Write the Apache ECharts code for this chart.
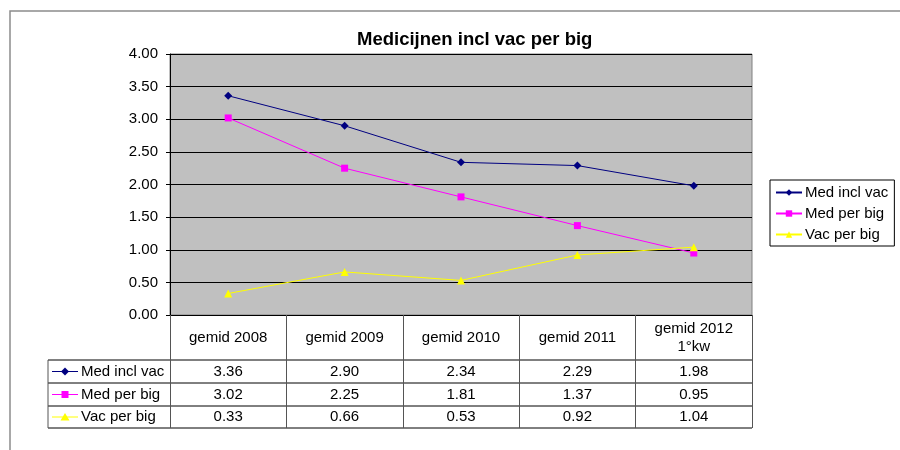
<!DOCTYPE html>
<html>
<head>
<meta charset="utf-8">
<script src="https://cdn.jsdelivr.net/npm/echarts@6/dist/echarts.min.js"></script>
<style>
  html, body { margin: 0; background: #fff; }
  #chart { width: 900px; height: 450px; }
</style>
</head>
<body>
<div id="chart"></div>
<script>
var categories = ['gemid 2008', 'gemid 2009', 'gemid 2010', 'gemid 2011', 'gemid 2012\n1°kw']
var medInclVac = [3.36, 2.90, 2.34, 2.29, 1.98]
var medPerBig = [3.02, 2.25, 1.81, 1.37, 0.95]
var vacPerBig = [0.33, 0.66, 0.53, 0.92, 1.04]
var seriesNames = ['Med incl vac', 'Med per big', 'Vac per big']
var seriesData = [medInclVac, medPerBig, vacPerBig]
var colors = ['#000080', '#FF00FF', '#FFFF00']
var symbols = ['diamond', 'rect', 'triangle']
var symbolSizes = [8, 7, 8]

var font = 'Arial, "Liberation Sans", sans-serif'
// plot area / table layout (px)
var gl = 170, gr = 752, gt = 54, gb = 315
var rowLines = [360, 383, 406, 428]
var tableLeft = 48

var chart = echarts.init(document.getElementById('chart'))

// table x axes: header row + one row of values per series
var xAxes = [{
  type: 'category',
  data: categories,
  boundaryGap: true,
  axisLine: { lineStyle: { color: '#000', width: 1 } },
  axisTick: { show: true, interval: 0, length: rowLines[3] - gb, lineStyle: { color: '#555' } },
  axisLabel: { interval: 0, margin: (rowLines[0] - gb) / 2, verticalAlign: 'middle', color: '#000', fontSize: 15, fontFamily: font, lineHeight: 18 },
  splitLine: { show: false }
}]
seriesData.forEach(function (vals, i) {
  xAxes.push({
    type: 'category',
    data: categories,
    position: 'bottom',
    axisLine: { show: false },
    axisTick: { show: false },
    splitLine: { show: false },
    axisLabel: {
      interval: 0,
      margin: (rowLines[i] + rowLines[i + 1]) / 2 - gb,
      verticalAlign: 'middle',
      color: '#000',
      fontSize: 15,
      fontFamily: font,
      formatter: function (v, idx) { return vals[idx].toFixed(2) }
    }
  })
})

// table lines and row headers
var graphics = [{
  type: 'rect',
  shape: { x: 10, y: 11, width: 900, height: 450 },
  style: { fill: 'none', stroke: '#8c8c8c', lineWidth: 1.5 },
  silent: true
}]
rowLines.forEach(function (y) {
  graphics.push({ type: 'line', shape: { x1: tableLeft, y1: y, x2: gr, y2: y }, style: { stroke: '#000', lineWidth: 1 } })
})
graphics.push({ type: 'line', shape: { x1: tableLeft, y1: rowLines[0], x2: tableLeft, y2: rowLines[3] }, style: { stroke: '#555', lineWidth: 1 } })
seriesNames.forEach(function (name, i) {
  var cy = (rowLines[i] + rowLines[i + 1]) / 2
  var mx = 65
  graphics.push({ type: 'line', shape: { x1: 52, y1: cy, x2: 78, y2: cy }, style: { stroke: colors[i], lineWidth: 1 } })
  if (i === 0) {
    graphics.push({ type: 'polygon', shape: { points: [[mx, cy - 4], [mx + 4, cy], [mx, cy + 4], [mx - 4, cy]] }, style: { fill: colors[i] } })
  } else if (i === 1) {
    graphics.push({ type: 'rect', shape: { x: mx - 3.5, y: cy - 3.5, width: 7, height: 7 }, style: { fill: colors[i] } })
  } else {
    graphics.push({ type: 'polygon', shape: { points: [[mx, cy - 4], [mx + 4.5, cy + 3.5], [mx - 4.5, cy + 3.5]] }, style: { fill: colors[i] } })
  }
  graphics.push({ type: 'text', x: 81, y: cy, style: { text: name, fill: '#000', font: '15px ' + font, verticalAlign: 'middle' } })
})

var option = {
  animation: false,
  title: {
    text: 'Medicijnen incl vac per big',
    left: 357,
    top: 30,
    padding: 0,
    textStyle: { fontSize: 18.5, fontWeight: 'bold', color: '#000', fontFamily: font }
  },
  legend: {
    orient: 'vertical',
    left: 770,
    top: 180,
    padding: [5, 6, 4, 5],
    itemGap: 6,
    itemWidth: 26,
    itemHeight: 8,
    borderColor: '#000',
    borderWidth: 1,
    data: seriesNames,
    textStyle: { fontSize: 15, color: '#000', fontFamily: font, padding: [0, 0, 0, -2] }
  },
  grid: {
    left: gl,
    right: 900 - gr,
    top: gt,
    bottom: 450 - gb,
    show: true,
    backgroundColor: '#C0C0C0',
    borderColor: '#808080',
    borderWidth: 1
  },
  xAxis: xAxes,
  yAxis: {
    type: 'value',
    min: 0,
    max: 4,
    interval: 0.5,
    axisLine: { show: true, lineStyle: { color: '#000' } },
    axisTick: { show: true, length: 4, lineStyle: { color: '#000' } },
    axisLabel: { margin: 12, color: '#000', fontSize: 15, fontFamily: font, formatter: function (v) { return v.toFixed(2) } },
    splitLine: { show: true, lineStyle: { color: '#000', width: 1 } }
  },
  series: seriesData.map(function (vals, i) {
    return {
      name: seriesNames[i],
      type: 'line',
      data: vals,
      symbol: symbols[i],
      symbolSize: symbolSizes[i],
      itemStyle: { color: colors[i] },
      lineStyle: { color: colors[i], width: 1 }
    }
  }),
  graphic: graphics
}
chart.setOption(option)
</script>
</body>
</html>
